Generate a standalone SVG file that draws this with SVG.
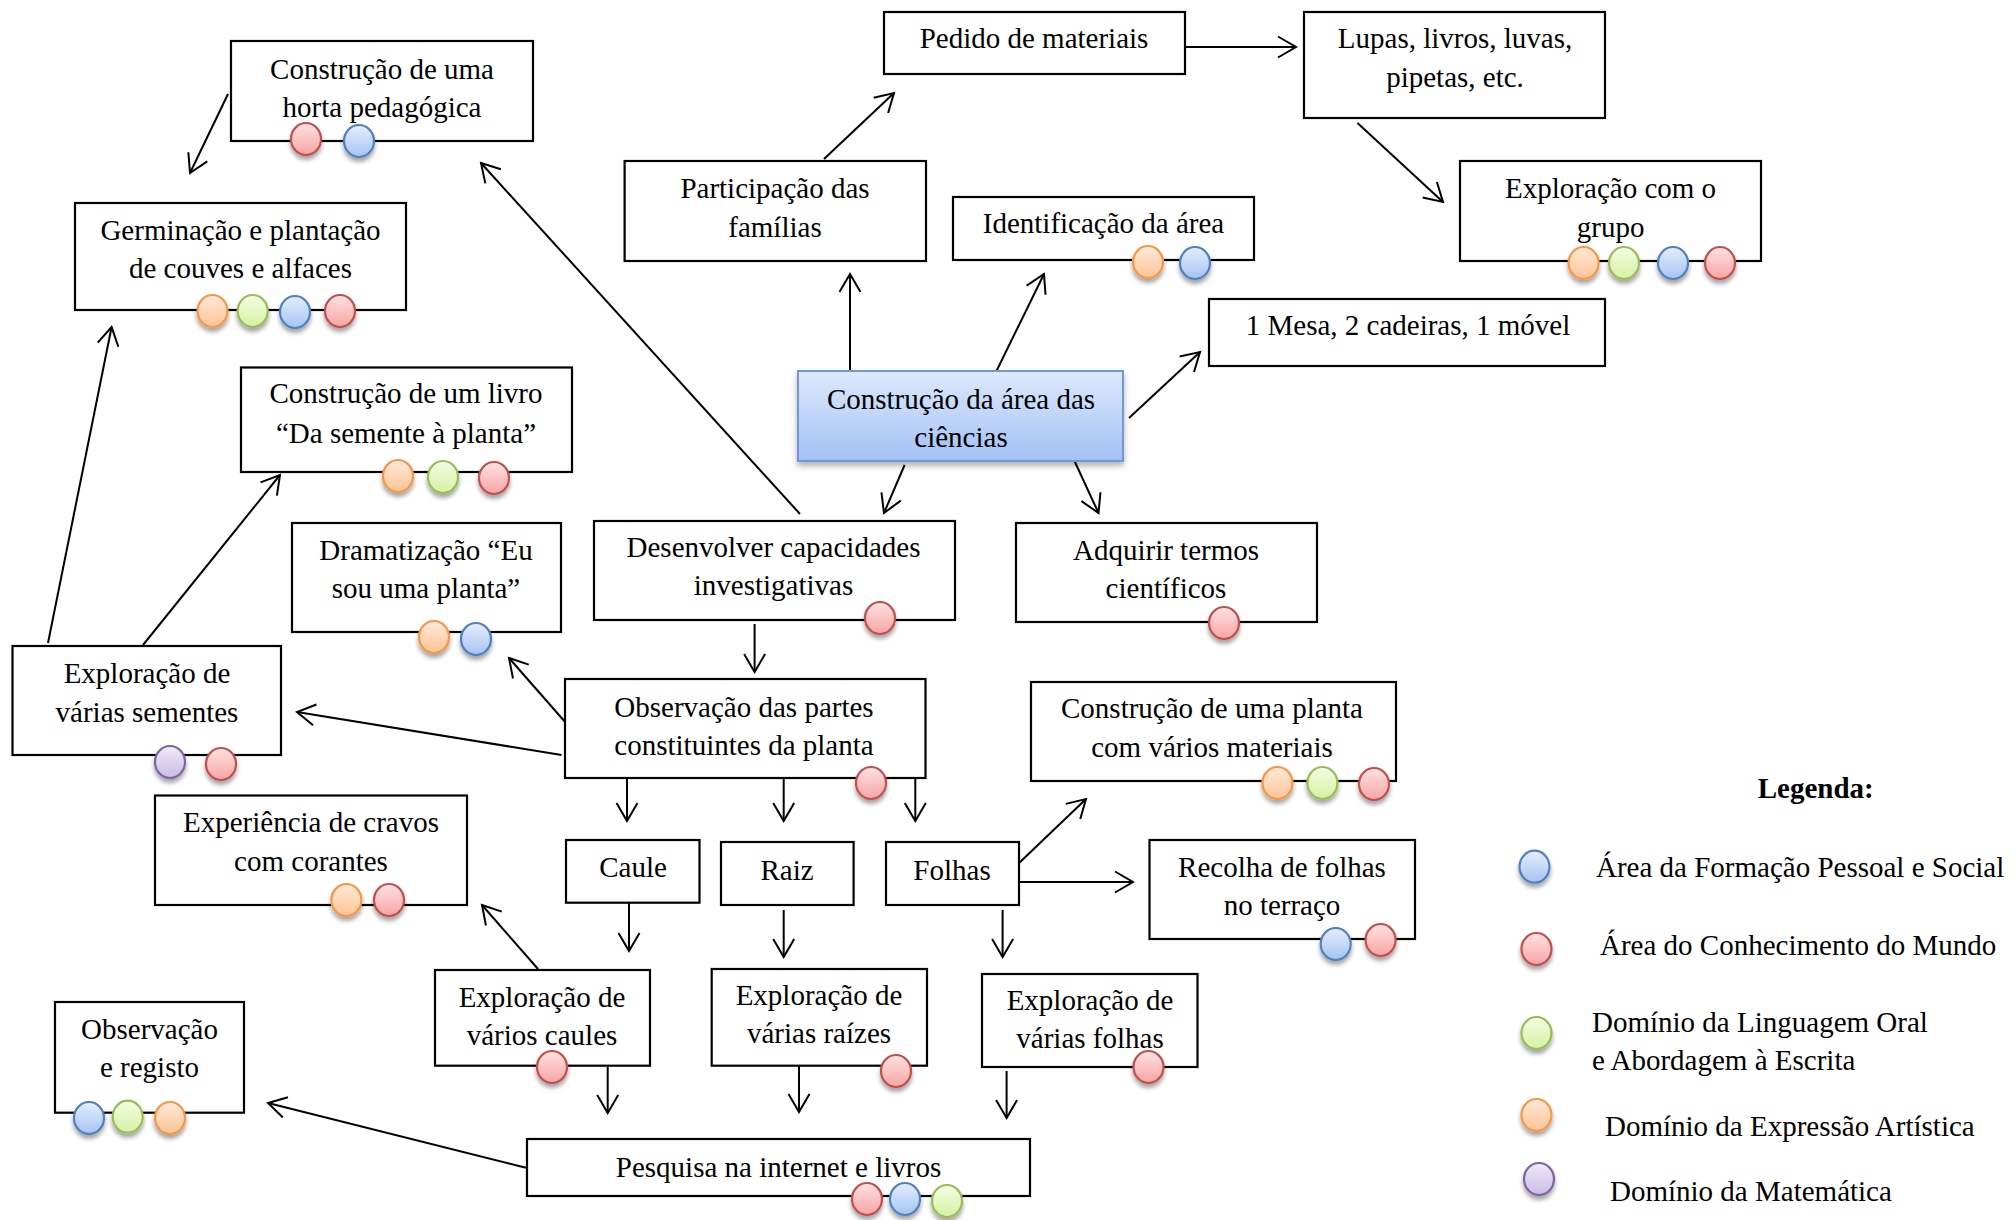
<svg xmlns="http://www.w3.org/2000/svg" width="2015" height="1220" viewBox="0 0 2015 1220">
<style>
.box{fill:#fff;stroke:#000;stroke-width:2.2}
.t{font-family:"Liberation Serif","Times New Roman",serif;font-size:29px;fill:#000;text-anchor:middle}
.lt{font-family:"Liberation Serif","Times New Roman",serif;font-size:29px;fill:#000}
.lg{font-family:"Liberation Serif","Times New Roman",serif;font-size:29px;font-weight:bold;fill:#000;text-anchor:middle}
.c{fill:none;stroke:#000;stroke-width:2;marker-end:url(#ah)}
.d{stroke-width:2.2;filter:url(#sh)}
.R{fill:url(#gR);stroke:#c0504d}
.B{fill:url(#gB);stroke:#4f81bd}
.G{fill:url(#gG);stroke:#9bbb59}
.O{fill:url(#gO);stroke:#f79646}
.P{fill:url(#gP);stroke:#8064a2}
</style>
<defs>
<marker id="ah" markerUnits="userSpaceOnUse" viewBox="-20 -12 22 24" markerWidth="22" markerHeight="24" refX="0" refY="0" orient="auto" overflow="visible">
<path d="M-18,-10.5 L0,0 L-18,10.5" fill="none" stroke="#000" stroke-width="2"/>
</marker>
<filter id="sh" x="-50%" y="-50%" width="200%" height="220%">
<feDropShadow dx="0" dy="4" stdDeviation="2" flood-color="#000" flood-opacity="0.35"/>
</filter>
<filter id="sh2" x="-10%" y="-20%" width="120%" height="150%">
<feDropShadow dx="0" dy="4" stdDeviation="3" flood-color="#000" flood-opacity="0.3"/>
</filter>
<linearGradient id="gR" x1="0" y1="0" x2="0" y2="1"><stop offset="0" stop-color="#ffe2e2"/><stop offset="1" stop-color="#f6a4a4"/></linearGradient>
<linearGradient id="gB" x1="0" y1="0" x2="0" y2="1"><stop offset="0" stop-color="#e4eefd"/><stop offset="1" stop-color="#a6c3f3"/></linearGradient>
<linearGradient id="gG" x1="0" y1="0" x2="0" y2="1"><stop offset="0" stop-color="#f4fde2"/><stop offset="1" stop-color="#d5f1a4"/></linearGradient>
<linearGradient id="gO" x1="0" y1="0" x2="0" y2="1"><stop offset="0" stop-color="#ffe9d8"/><stop offset="1" stop-color="#fcc496"/></linearGradient>
<linearGradient id="gP" x1="0" y1="0" x2="0" y2="1"><stop offset="0" stop-color="#efeaf8"/><stop offset="1" stop-color="#c9bce3"/></linearGradient>
<linearGradient id="gC" x1="0" y1="0" x2="0" y2="1"><stop offset="0" stop-color="#dde9fc"/><stop offset="1" stop-color="#a3c1f4"/></linearGradient>
</defs>
<rect width="2015" height="1220" fill="#fff"/>

<g id="connectors">
<line class="c" x1="228" y1="94" x2="190" y2="173"/>
<line class="c" x1="48" y1="643" x2="111.6" y2="327"/>
<line class="c" x1="143" y1="645" x2="280" y2="475"/>
<line class="c" x1="800" y1="514" x2="481" y2="163"/>
<line class="c" x1="850" y1="372" x2="850" y2="274"/>
<line class="c" x1="824" y1="159" x2="894" y2="93"/>
<line class="c" x1="1185" y1="47" x2="1296" y2="47"/>
<line class="c" x1="1357.5" y1="123" x2="1443" y2="202"/>
<line class="c" x1="995.5" y1="373" x2="1044" y2="274"/>
<line class="c" x1="1129" y1="418" x2="1200" y2="352"/>
<line class="c" x1="904.6" y1="465" x2="884" y2="513"/>
<line class="c" x1="1074.5" y1="461" x2="1098.5" y2="513"/>
<line class="c" x1="754.6" y1="624" x2="754.6" y2="672"/>
<line class="c" x1="566" y1="723" x2="509" y2="658"/>
<line class="c" x1="561.6" y1="755" x2="297" y2="712"/>
<line class="c" x1="627" y1="778" x2="627" y2="821"/>
<line class="c" x1="783.7" y1="778" x2="783.7" y2="821"/>
<line class="c" x1="915.3" y1="778" x2="915.3" y2="821"/>
<line class="c" x1="1017" y1="865" x2="1086" y2="799"/>
<line class="c" x1="1017" y1="882" x2="1133" y2="882"/>
<line class="c" x1="629" y1="903" x2="629" y2="951"/>
<line class="c" x1="783.7" y1="910" x2="783.7" y2="957"/>
<line class="c" x1="1002.6" y1="910" x2="1002.6" y2="957"/>
<line class="c" x1="538" y1="969" x2="482" y2="905"/>
<line class="c" x1="607.7" y1="1067" x2="607.7" y2="1113"/>
<line class="c" x1="799" y1="1064" x2="799" y2="1112"/>
<line class="c" x1="1006.6" y1="1071" x2="1006.6" y2="1118"/>
<line class="c" x1="527" y1="1168" x2="268" y2="1103"/>
</g>

<g id="horta">
<rect class="box" x="231" y="41" width="302" height="100"/>
<text class="t" x="382" y="79">Construção de uma</text>
<text class="t" x="382" y="117">horta pedagógica</text>
<ellipse class="d R" cx="306" cy="139" rx="15" ry="16"/>
<ellipse class="d B" cx="359" cy="141" rx="15" ry="16"/>
</g>

<g id="germinacao">
<rect class="box" x="75" y="203" width="331" height="107"/>
<text class="t" x="240.5" y="240">Germinação e plantação</text>
<text class="t" x="240.5" y="278">de couves e alfaces</text>
<ellipse class="d O" cx="212.5" cy="311" rx="15" ry="16"/>
<ellipse class="d G" cx="252.7" cy="311" rx="15" ry="16"/>
<ellipse class="d B" cx="295" cy="312" rx="15" ry="16"/>
<ellipse class="d R" cx="340" cy="311" rx="15" ry="16"/>
</g>

<g id="livro">
<rect class="box" x="241" y="367.5" width="331" height="104.5"/>
<text class="t" x="406" y="403">Construção de um livro</text>
<text class="t" x="406" y="443">“Da semente à planta”</text>
<ellipse class="d O" cx="398" cy="476" rx="15" ry="16"/>
<ellipse class="d G" cx="443" cy="477" rx="15" ry="16"/>
<ellipse class="d R" cx="494" cy="478" rx="15" ry="16"/>
</g>

<g id="dramatizacao">
<rect class="box" x="292" y="523" width="269" height="109"/>
<text class="t" x="426" y="560">Dramatização “Eu</text>
<text class="t" x="426" y="598">sou uma planta”</text>
<ellipse class="d O" cx="434" cy="637" rx="15" ry="16"/>
<ellipse class="d B" cx="476" cy="639" rx="15" ry="16"/>
</g>

<g id="sementes">
<rect class="box" x="12.5" y="646" width="268.5" height="109"/>
<text class="t" x="147" y="683">Exploração de</text>
<text class="t" x="147" y="722">várias sementes</text>
<ellipse class="d P" cx="170" cy="762" rx="15" ry="16"/>
<ellipse class="d R" cx="221" cy="764" rx="15" ry="16"/>
</g>

<g id="experiencia">
<rect class="box" x="155" y="795.5" width="312" height="109.5"/>
<text class="t" x="311" y="832">Experiência de cravos</text>
<text class="t" x="311" y="871">com corantes</text>
<ellipse class="d O" cx="346.4" cy="900" rx="15" ry="16"/>
<ellipse class="d R" cx="389" cy="900" rx="15" ry="16"/>
</g>

<g id="observacao-registo">
<rect class="box" x="55" y="1002" width="189" height="110.7"/>
<text class="t" x="149.5" y="1039">Observação</text>
<text class="t" x="149.5" y="1077">e registo</text>
<ellipse class="d B" cx="89" cy="1118" rx="15" ry="16"/>
<ellipse class="d G" cx="127.7" cy="1116.7" rx="15" ry="16"/>
<ellipse class="d O" cx="170" cy="1118" rx="15" ry="16"/>
</g>

<g id="central">
<rect x="798" y="371" width="325" height="90" fill="url(#gC)" stroke="#6f98d2" stroke-width="2" filter="url(#sh2)"/>
<text class="t" x="961" y="409">Construção da área das</text>
<text class="t" x="961" y="447">ciências</text>
</g>

<g id="participacao">
<rect class="box" x="624.6" y="161" width="301.4" height="100"/>
<text class="t" x="775" y="198">Participação das</text>
<text class="t" x="775" y="237">famílias</text>
</g>

<g id="pedido">
<rect class="box" x="884" y="12" width="301" height="62"/>
<text class="t" x="1034" y="48">Pedido de materiais</text>
</g>

<g id="lupas">
<rect class="box" x="1304" y="12" width="301" height="106"/>
<text class="t" x="1455" y="48">Lupas, livros, luvas,</text>
<text class="t" x="1455" y="87">pipetas, etc.</text>
</g>

<g id="identificacao">
<rect class="box" x="953" y="197" width="301" height="63"/>
<text class="t" x="1103.5" y="233">Identificação da área</text>
<ellipse class="d O" cx="1148" cy="262" rx="15" ry="16"/>
<ellipse class="d B" cx="1195" cy="263" rx="15" ry="16"/>
</g>

<g id="grupo">
<rect class="box" x="1460" y="161" width="301" height="100"/>
<text class="t" x="1610.6" y="198">Exploração com o</text>
<text class="t" x="1610.6" y="237">grupo</text>
<ellipse class="d O" cx="1583.6" cy="263" rx="15" ry="16"/>
<ellipse class="d G" cx="1624" cy="263" rx="15" ry="16"/>
<ellipse class="d B" cx="1673" cy="263" rx="15" ry="16"/>
<ellipse class="d R" cx="1720" cy="263" rx="15" ry="16"/>
</g>

<g id="mesa">
<rect class="box" x="1209" y="299" width="396" height="67"/>
<text class="t" x="1408" y="335">1 Mesa, 2 cadeiras, 1 móvel</text>
</g>

<g id="desenvolver">
<rect class="box" x="594" y="521" width="361" height="99"/>
<text class="t" x="773.5" y="557">Desenvolver capacidades</text>
<text class="t" x="773.5" y="595">investigativas</text>
<ellipse class="d R" cx="880" cy="618" rx="15" ry="16"/>
</g>

<g id="adquirir">
<rect class="box" x="1016" y="523" width="301" height="99"/>
<text class="t" x="1166" y="560">Adquirir termos</text>
<text class="t" x="1166" y="598">científicos</text>
<ellipse class="d R" cx="1224" cy="623" rx="15" ry="16"/>
</g>

<g id="observacao">
<rect class="box" x="565" y="679" width="360.5" height="99"/>
<text class="t" x="744" y="717">Observação das partes</text>
<text class="t" x="744" y="755">constituintes da planta</text>
<ellipse class="d R" cx="871" cy="783" rx="15" ry="16"/>
</g>

<g id="planta">
<rect class="box" x="1031" y="682" width="365" height="99"/>
<text class="t" x="1212" y="718">Construção de uma planta</text>
<text class="t" x="1212" y="757">com vários materiais</text>
<ellipse class="d O" cx="1277.5" cy="783" rx="15" ry="16"/>
<ellipse class="d G" cx="1322.4" cy="783" rx="15" ry="16"/>
<ellipse class="d R" cx="1374" cy="784" rx="15" ry="16"/>
</g>

<g id="caule">
<rect class="box" x="566" y="840" width="133.5" height="62.7"/>
<text class="t" x="633" y="877">Caule</text>
</g>

<g id="raiz">
<rect class="box" x="721" y="842" width="132.6" height="63"/>
<text class="t" x="787" y="880">Raiz</text>
</g>

<g id="folhas">
<rect class="box" x="886" y="842" width="133" height="63"/>
<text class="t" x="952" y="880">Folhas</text>
</g>

<g id="recolha">
<rect class="box" x="1149.5" y="840" width="265.5" height="99"/>
<text class="t" x="1282" y="877">Recolha de folhas</text>
<text class="t" x="1282" y="915">no terraço</text>
<ellipse class="d B" cx="1335.7" cy="944" rx="15" ry="16"/>
<ellipse class="d R" cx="1380.6" cy="940" rx="15" ry="16"/>
</g>

<g id="caules">
<rect class="box" x="435" y="970" width="215" height="95.7"/>
<text class="t" x="542" y="1007">Exploração de</text>
<text class="t" x="542" y="1045">vários caules</text>
<ellipse class="d R" cx="552" cy="1067" rx="15" ry="16"/>
</g>

<g id="raizes">
<rect class="box" x="711.7" y="969" width="215.3" height="96.7"/>
<text class="t" x="819" y="1005">Exploração de</text>
<text class="t" x="819" y="1043">várias raízes</text>
<ellipse class="d R" cx="896" cy="1071" rx="15" ry="16"/>
</g>

<g id="folhas-exp">
<rect class="box" x="982" y="974" width="215.5" height="93"/>
<text class="t" x="1090" y="1010">Exploração de</text>
<text class="t" x="1090" y="1048">várias folhas</text>
<ellipse class="d R" cx="1148.5" cy="1067" rx="15" ry="16"/>
</g>

<g id="pesquisa">
<rect class="box" x="527" y="1139" width="503" height="57"/>
<text class="t" x="778.5" y="1177">Pesquisa na internet e livros</text>
<ellipse class="d R" cx="867" cy="1199" rx="15" ry="16"/>
<ellipse class="d B" cx="905" cy="1199" rx="15" ry="16"/>
<ellipse class="d G" cx="947" cy="1201" rx="15" ry="16"/>
</g>

<g id="legenda">
<text class="lg" x="1815.7" y="798">Legenda:</text>
<ellipse class="d B" cx="1534.5" cy="866.7" rx="15" ry="16"/>
<text class="lt" x="1596" y="877">Área da Formação Pessoal e Social</text>
<ellipse class="d R" cx="1536.5" cy="949" rx="15" ry="16"/>
<text class="lt" x="1600" y="955">Área do Conhecimento do Mundo</text>
<ellipse class="d G" cx="1536.5" cy="1033" rx="15" ry="16"/>
<text class="lt" x="1592" y="1032">Domínio da Linguagem Oral</text>
<text class="lt" x="1592" y="1070">e Abordagem à Escrita</text>
<ellipse class="d O" cx="1536.5" cy="1115" rx="15" ry="16"/>
<text class="lt" x="1605" y="1136">Domínio da Expressão Artística</text>
<ellipse class="d P" cx="1539" cy="1179" rx="15" ry="16"/>
<text class="lt" x="1610" y="1201">Domínio da Matemática</text>
</g>
</svg>
